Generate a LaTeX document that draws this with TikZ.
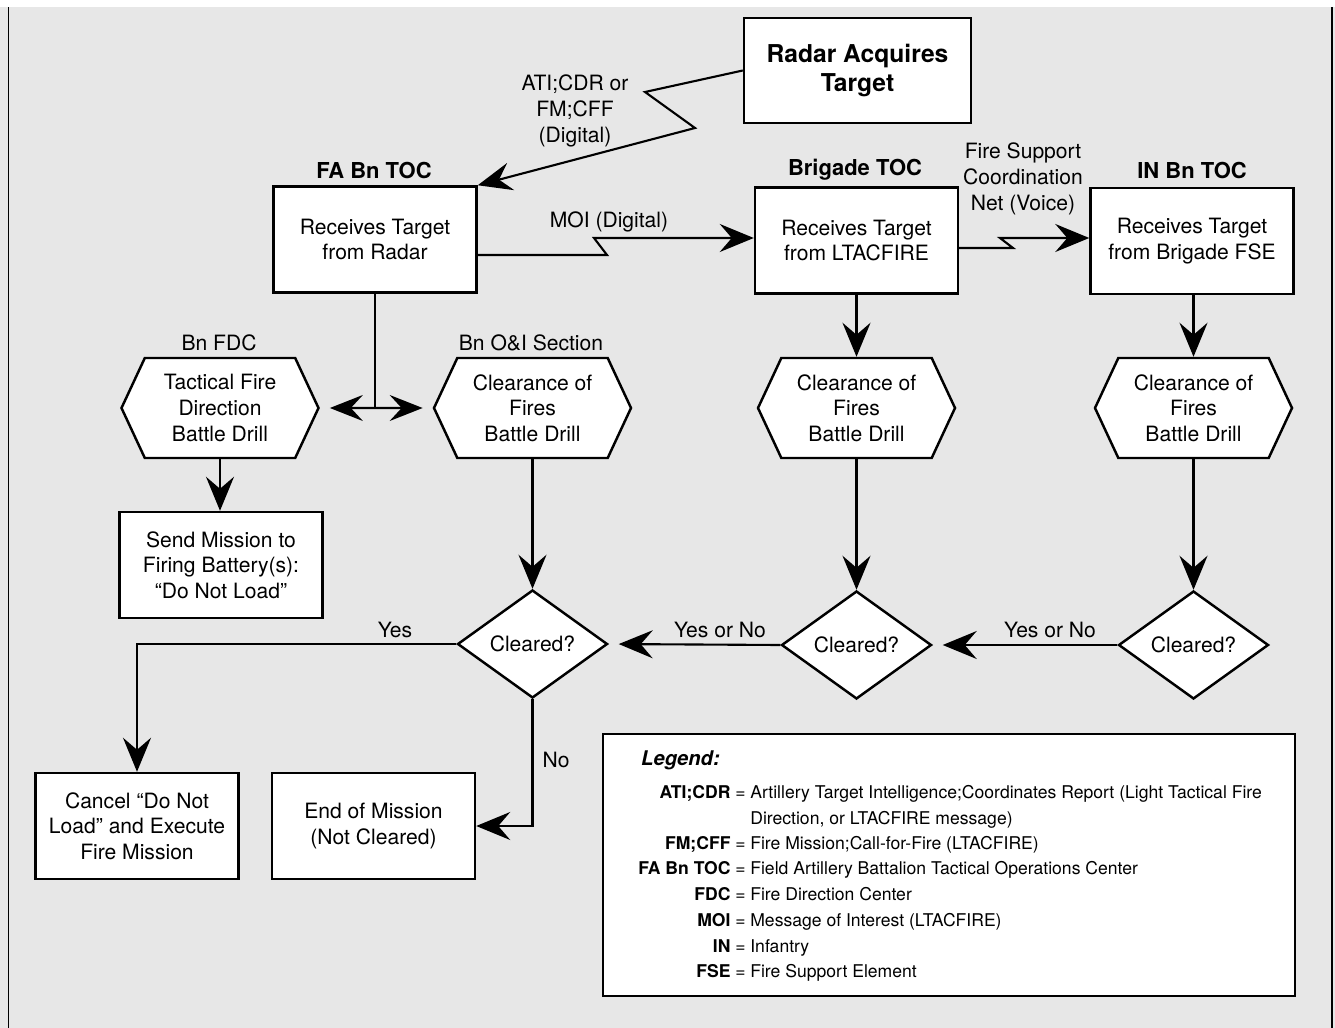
\documentclass[tikz,border=0pt]{standalone}
\usepackage{fontspec}
\setmainfont{TeX Gyre Heros}
\usepackage{tikz}
\usetikzlibrary{arrows.meta,shapes.geometric,shapes.symbols}
\pgfdeclarelayer{edgelayer}
\pgfdeclarelayer{nodelayer}
\pgfsetlayers{edgelayer,nodelayer,main}
\definecolor{scan}{gray}{0.905}
\tikzstyle{none} = []
\tikzstyle{box} = [draw, fill=white, line width=1.4pt, minimum width=4.06cm, minimum height=2.12cm, align=center, font=\fontsize{12}{14.4}\selectfont]
\tikzstyle{radarbox} = [box, minimum width=4.54cm, minimum height=2.1cm, font=\bfseries\fontsize{14}{17}\selectfont]
\tikzstyle{drill} = [draw, fill=white, line width=1.4pt, shape=signal, signal to=east and west, signal pointer angle=130, minimum width=3.94cm, minimum height=2cm, inner sep=0pt, align=center, font=\fontsize{12}{14.6}\selectfont]
\tikzstyle{decision} = [draw, fill=white, line width=1.4pt, shape=diamond, aspect=1.4, minimum width=3cm, minimum height=2.16cm, inner sep=0pt, font=\fontsize{12}{14.4}\selectfont]
\tikzstyle{unit} = [font=\bfseries\fontsize{12.5}{15}\selectfont]
\tikzstyle{note} = [align=center, font=\fontsize{12}{14.9}\selectfont]
\tikzstyle{legendbox} = [draw, fill=white, line width=0.9pt, minimum width=13.84cm, minimum height=5.24cm]
\tikzstyle{abbrev} = [anchor=base east, inner sep=0pt, font=\fontsize{10}{12}\selectfont]
\tikzstyle{meaning} = [anchor=base west, inner sep=0pt, font=\fontsize{10}{12}\selectfont]
\tikzstyle{wire} = [line width=1.2pt]
\tikzstyle{flow} = [line width=1.2pt, -{Stealth[length=0.68cm, width=0.56cm, inset=0.24cm]}]
\tikzstyle{twoway} = [line width=1.2pt, {Stealth[length=0.66cm, width=0.52cm, inset=0.24cm]}-{Stealth[length=0.66cm, width=0.52cm, inset=0.24cm]}, shorten <=0.2cm, shorten >=0.2cm]

\begin{document}
\begin{tikzpicture}
	\useasboundingbox (0, 0) rectangle (26.7, -20.56);
	\begin{pgfonlayer}{nodelayer}
		\node [style=radarbox] (0) at (17.15, -1.41) {Radar Acquires\\Target};
		\node [style=note] (1) at (11.5, -2.22) {ATI;CDR or\\FM;CFF\\(Digital)};
		\node [style=box] (2) at (7.5, -4.79) {Receives Target\\from Radar};
		\node [style=box] (3) at (17.13, -4.81) {Receives Target\\from LTACFIRE};
		\node [style=box] (4) at (23.84, -4.82) {Receives Target\\from Brigade FSE};
		\node [style=drill] (5) at (4.4, -8.16) {Tactical Fire\\Direction\\Battle Drill};
		\node [style=drill] (6) at (10.65, -8.16) {Clearance of\\Fires\\Battle Drill};
		\node [style=drill] (7) at (17.13, -8.16) {Clearance of\\Fires\\Battle Drill};
		\node [style=drill] (8) at (23.87, -8.16) {Clearance of\\Fires\\Battle Drill};
		\node [style=box] (9) at (4.42, -11.3) {Send Mission to\\Firing Battery(s):\\“Do Not Load”};
		\node [style=decision] (10) at (10.65, -12.88) {Cleared?};
		\node [style=decision] (11) at (17.13, -12.9) {Cleared?};
		\node [style=decision] (12) at (23.87, -12.9) {Cleared?};
		\node [style=box] (13) at (2.74, -16.52) {Cancel “Do Not\\Load” and Execute\\Fire Mission};
		\node [style=box] (14) at (7.47, -16.52) {End of Mission\\(Not Cleared)};
		\node [style=unit] (15) at (7.48, -3.4) {FA Bn TOC};
		\node [style=unit] (16) at (17.1, -3.4) {Brigade TOC};
		\node [style=unit] (17) at (23.84, -3.4) {IN Bn TOC};
		\node [style=note] (18) at (12.18, -4.44) {MOI (Digital)};
		\node [style=note] (19) at (20.46, -3.58) {Fire Support\\Coordination\\Net (Voice)};
		\node [style=note] (20) at (4.38, -6.86) {Bn FDC};
		\node [style=note] (21) at (10.62, -6.86) {Bn O\&I Section};
		\node [style=note] (22) at (7.9, -12.6) {Yes};
		\node [style=note] (23) at (14.4, -12.6) {Yes or No};
		\node [style=note] (24) at (21.0, -12.6) {Yes or No};
		\node [style=note] (25) at (11.12, -15.2) {No};
		\node [style=none] (26) at (12.9, -1.84) {};
		\node [style=none] (27) at (13.9, -2.56) {};
		\node [style=none] (28) at (12.14, -5.1) {};
		\node [style=none] (29) at (11.88, -4.76) {};
		\node [style=none] (30) at (20.26, -4.96) {};
		\node [style=none] (31) at (20.0, -4.76) {};
		\node [style=legendbox] (32) at (18.98, -17.3) {};
		\node [anchor=west, font=\bfseries\itshape\fontsize{11.5}{14}\selectfont] (33) at (12.7, -15.2) {Legend:};
		\node [style=abbrev] (34) at (14.92, -15.96) {\textbf{ATI;CDR} =};
		\node [style=meaning] (35) at (15.0, -15.96) {Artillery Target Intelligence;Coordinates Report (Light Tactical Fire};
		\node [style=meaning] (36) at (15.0, -16.48) {Direction, or LTACFIRE message)};
		\node [style=abbrev] (37) at (14.92, -16.98) {\textbf{FM;CFF} =};
		\node [style=meaning] (38) at (15.0, -16.98) {Fire Mission;Call-for-Fire (LTACFIRE)};
		\node [style=abbrev] (39) at (14.92, -17.48) {\textbf{FA Bn TOC} =};
		\node [style=meaning] (40) at (15.0, -17.48) {Field Artillery Battalion Tactical Operations Center};
		\node [style=abbrev] (41) at (14.92, -18.0) {\textbf{FDC} =};
		\node [style=meaning] (42) at (15.0, -18.0) {Fire Direction Center};
		\node [style=abbrev] (43) at (14.92, -18.52) {\textbf{MOI} =};
		\node [style=meaning] (44) at (15.0, -18.52) {Message of Interest (LTACFIRE)};
		\node [style=abbrev] (45) at (14.92, -19.04) {\textbf{IN} =};
		\node [style=meaning] (46) at (15.0, -19.04) {Infantry};
		\node [style=abbrev] (47) at (14.92, -19.54) {\textbf{FSE} =};
		\node [style=meaning] (48) at (15.0, -19.54) {Fire Support Element};
	\end{pgfonlayer}
	\begin{pgfonlayer}{edgelayer}
		\fill [scan] (0, -0.15) rectangle (26.7, -20.56);
		\draw [line width=1pt] (0.17, -0.15) to (0.17, -20.56);
		\draw [line width=1pt] (26.64, -0.15) to (26.64, -20.56);
		\draw [style=flow] (0.west) to (26.center) to (27.center) to (2.north east);
		\draw [style=flow] (2.east |- 28.center) to (28.center) to (29.center) to (3.west |- 29.center);
		\draw [style=flow] (3.east |- 30.center) to (30.center) to (31.center) to (4.west |- 31.center);
		\draw [style=wire] (2.south) to (2.south |- 5.east);
		\draw [style=twoway] (5) to (6);
		\draw [style=flow] (5.south) to (5.south |- 9.north);
		\draw [style=flow] (6.south) to (10.north);
		\draw [style=flow] (3.south) to (7.north);
		\draw [style=flow] (7.south) to (11.north);
		\draw [style=flow] (8.north |- 4.south) to (8.north);
		\draw [style=flow] (8.south) to (12.north);
		\draw [style=flow, shorten >=0.2cm] (12.west) to (11.east);
		\draw [style=flow, shorten >=0.2cm] (11.west) to (10.east);
		\draw [style=flow] (10.west) to (10.west -| 13.north) to (13.north);
		\draw [style=flow] (10.south) to (10.south |- 14.east) to (14.east);
	\end{pgfonlayer}
\end{tikzpicture}
\end{document}
